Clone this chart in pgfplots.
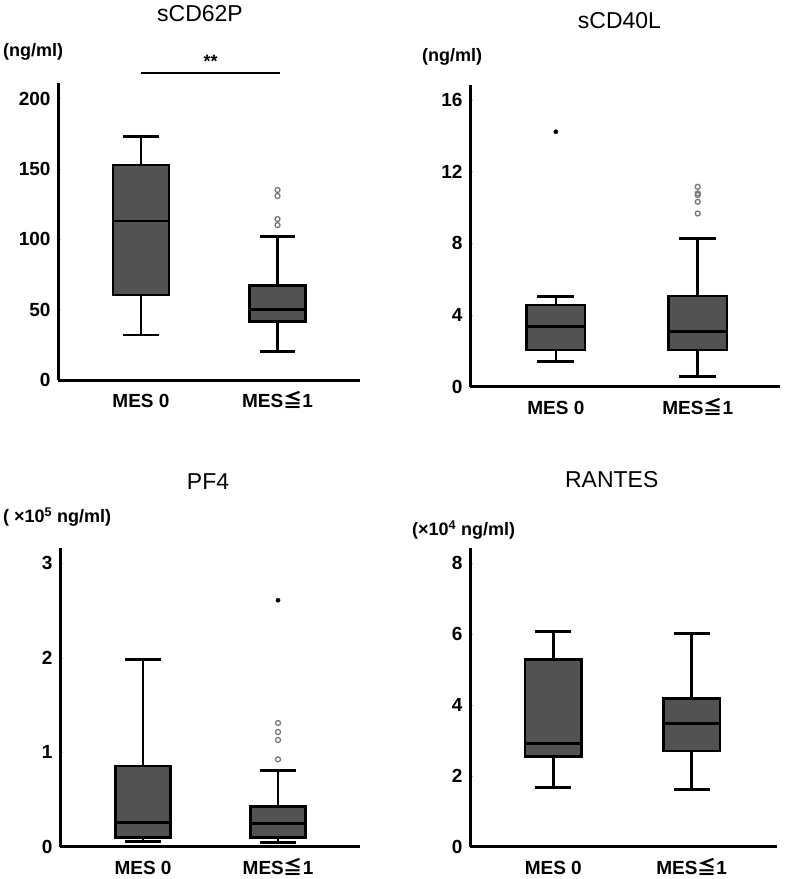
\documentclass[border=0pt]{standalone}
\usepackage{fontspec}
\setmainfont{Liberation Sans}
\newfontfamily\cjk{Noto Sans CJK JP}
\usepackage{pgfplots}
\pgfplotsset{compat=1.18}
\definecolor{boxgray}{RGB}{82,82,82}
\definecolor{outgray}{RGB}{120,120,120}
\pgfplotsset{
  panel/.style={
    scale only axis,
    axis lines=left,
    axis line style={-, line width=3pt, black},
    xtick={0,1},
    xticklabels={MES 0, MES{\cjk ≦}1},
    xtick style={draw=none},
    ytick style={gray!60, line width=0.6pt},
    tick align=inside,
    major tick length=3pt,
    clip=false,
    ymin=0,
    /pgf/number format/assume math mode=true,
    yticklabel style={font=\bfseries\fontsize{19}{19}\selectfont, xshift=-4pt},
    xticklabel style={font=\bfseries\fontsize{19}{19}\selectfont, yshift=-10pt, text height=14pt, text depth=2pt},
  },
  ln/.style={black, line width=2.6pt, no marks, line cap=butt},
  bx/.style={draw=black, fill=boxgray, line width=2.6pt, no marks, line join=miter},
  openout/.style={only marks, mark=o, mark size=2.5pt, mark options={draw=outgray, line width=1.3pt}},
  fullout/.style={only marks, mark=*, mark size=2.1pt, mark options={fill=black, draw=black}},
}
\begin{document}
\begin{tikzpicture}
\useasboundingbox (0pt,0pt) rectangle (789pt,-879pt);

% ---------- sCD62P ----------
\begin{axis}[panel, anchor=south west, at={(58pt,-380pt)}, width=302pt, height=297pt,
  xmin=-0.608, xmax=1.604, ymax=211, ytick={0,50,100,150,200}]
% MES 0: lw 32, q1 60.4, med 113.1, q3 152.7, uw 172.8
\addplot[ln] coordinates {(0,32) (0,172.8)};
\addplot[ln] coordinates {(-0.13,32) (0.13,32)};
\addplot[ln] coordinates {(-0.13,172.8) (0.13,172.8)};
\addplot[bx] coordinates {(-0.205,60.4) (0.205,60.4) (0.205,152.7) (-0.205,152.7)} -- cycle;
\addplot[ln] coordinates {(-0.205,113.1) (0.205,113.1)};
% MES<=1: lw 20.1, q1 41.4, med 50.2, q3 67, uw 101.8
\addplot[ln] coordinates {(1,20.1) (1,101.8)};
\addplot[ln] coordinates {(0.87,20.1) (1.13,20.1)};
\addplot[ln] coordinates {(0.87,101.8) (1.13,101.8)};
\addplot[bx] coordinates {(0.795,41.4) (1.205,41.4) (1.205,67) (0.795,67)} -- cycle;
\addplot[ln] coordinates {(0.795,50.2) (1.205,50.2)};
\addplot[openout] coordinates {(1,135) (1,130.7) (1,114.3) (1,110)};
\addplot[black, line width=1.8pt, no marks] coordinates {(0,218) (1.02,218)};
\node[font=\bfseries\fontsize{18}{18}\selectfont] at (axis cs:0.51,226.5) {**};
\end{axis}

% ---------- sCD40L ----------
\begin{axis}[panel, anchor=south west, at={(470pt,-386.7pt)}, width=310pt, height=301.7pt,
  xmin=-0.605, xmax=1.58, ymax=16.84, ytick={0,4,8,12,16}]
\addplot[ln] coordinates {(0,1.40) (0,5.02)};
\addplot[ln] coordinates {(-0.13,1.40) (0.13,1.40)};
\addplot[ln] coordinates {(-0.13,5.02) (0.13,5.02)};
\addplot[bx] coordinates {(-0.205,2.05) (0.205,2.05) (0.205,4.56) (-0.205,4.56)} -- cycle;
\addplot[ln] coordinates {(-0.205,3.35) (0.205,3.35)};
\addplot[ln] coordinates {(1,0.56) (1,8.28)};
\addplot[ln] coordinates {(0.87,0.56) (1.13,0.56)};
\addplot[ln] coordinates {(0.87,8.28) (1.13,8.28)};
\addplot[bx] coordinates {(0.795,2.05) (1.205,2.05) (1.205,5.06) (0.795,5.06)} -- cycle;
\addplot[ln] coordinates {(0.795,3.07) (1.205,3.07)};
\addplot[fullout] coordinates {(0,14.23)};
\addplot[openout] coordinates {(1,11.16) (1,10.79) (1,10.70) (1,10.32) (1,9.67)};
\end{axis}

% ---------- PF4 ----------
\begin{axis}[panel, anchor=south west, at={(60pt,-846.7pt)}, width=300pt, height=298.4pt,
  xmin=-0.615, xmax=1.607, ymax=3.16, ytick={0,1,2,3}]
\addplot[ln] coordinates {(0,0.053) (0,1.98)};
\addplot[ln] coordinates {(-0.13,0.053) (0.13,0.053)};
\addplot[ln] coordinates {(-0.13,1.98) (0.13,1.98)};
\addplot[bx] coordinates {(-0.205,0.095) (0.205,0.095) (0.205,0.855) (-0.205,0.855)} -- cycle;
\addplot[ln] coordinates {(-0.205,0.254) (0.205,0.254)};
\addplot[ln] coordinates {(1,0.046) (1,0.805)};
\addplot[ln] coordinates {(0.87,0.046) (1.13,0.046)};
\addplot[ln] coordinates {(0.87,0.805) (1.13,0.805)};
\addplot[bx] coordinates {(0.795,0.095) (1.205,0.095) (1.205,0.424) (0.795,0.424)} -- cycle;
\addplot[ln] coordinates {(0.795,0.247) (1.205,0.247)};
\addplot[fullout] coordinates {(1,2.61)};
\addplot[openout] coordinates {(1,1.31) (1,1.215) (1,1.13) (1,0.925)};
\end{axis}

% ---------- RANTES ----------
\begin{axis}[panel, anchor=south west, at={(470pt,-846.7pt)}, width=306.7pt, height=298.4pt,
  xmin=-0.602, xmax=1.615, ymax=8.42, ytick={0,2,4,6,8}]
\addplot[ln] coordinates {(0,1.67) (0,6.07)};
\addplot[ln] coordinates {(-0.13,1.67) (0.13,1.67)};
\addplot[ln] coordinates {(-0.13,6.07) (0.13,6.07)};
\addplot[bx] coordinates {(-0.205,2.54) (0.205,2.54) (0.205,5.29) (-0.205,5.29)} -- cycle;
\addplot[ln] coordinates {(-0.205,2.92) (0.205,2.92)};
\addplot[ln] coordinates {(1,1.62) (1,6.02)};
\addplot[ln] coordinates {(0.87,1.62) (1.13,1.62)};
\addplot[ln] coordinates {(0.87,6.02) (1.13,6.02)};
\addplot[bx] coordinates {(0.795,2.70) (1.205,2.70) (1.205,4.19) (0.795,4.19)} -- cycle;
\addplot[ln] coordinates {(0.795,3.48) (1.205,3.48)};
\end{axis}

% titles and unit labels
\node[font=\fontsize{23}{23}\selectfont] at (200pt,-13.5pt) {sCD62P};
\node[font=\fontsize{23}{23}\selectfont] at (619.5pt,-20.5pt) {sCD40L};
\node[font=\fontsize{23}{23}\selectfont] at (208pt,-481.5pt) {PF4};
\node[font=\fontsize{23}{23}\selectfont] at (611.7pt,-480pt) {RANTES};
\node[font=\bfseries\fontsize{18}{18}\selectfont, anchor=west, inner sep=0pt] at (3pt,-52pt) {(ng/ml)};
\node[font=\bfseries\fontsize{18}{18}\selectfont, anchor=west, inner sep=0pt] at (422pt,-57pt) {(ng/ml)};
\node[font=\bfseries\fontsize{18}{18}\selectfont, anchor=west, inner sep=0pt] at (3pt,-516.7pt) {( ×10\textsuperscript{5} ng/ml)};
\node[font=\bfseries\fontsize{18}{18}\selectfont, anchor=west, inner sep=0pt] at (412pt,-530pt) {(×10\textsuperscript{4} ng/ml)};
\end{tikzpicture}
\end{document}
